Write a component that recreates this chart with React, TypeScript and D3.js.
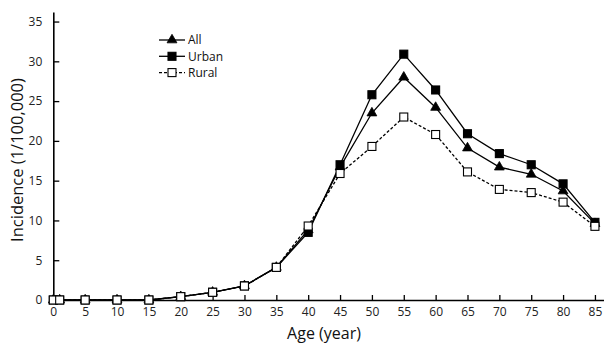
import {useEffect, useRef} from 'react';
import * as d3 from 'd3';

const ages = [0, 1, 5, 10, 15, 20, 25, 30, 35, 40, 45, 50, 55, 60, 65, 70, 75, 80, 85];
const allValues = [0, 0, 0, 0, 0, 0.42, 0.97, 1.78, 4.1, 8.8, 16.7, 23.5, 28.0, 24.2, 19.1, 16.7, 15.8, 13.7, 9.6];
const urbanValues = [0, 0, 0, 0, 0, 0.42, 0.97, 1.78, 4.1, 8.5, 17.0, 25.8, 30.9, 26.4, 20.9, 18.4, 17.0, 14.6, 9.76];
const ruralValues = [0, 0, 0, 0, 0, 0.42, 0.97, 1.76, 4.1, 9.3, 15.9, 19.3, 23.0, 20.8, 16.1, 13.9, 13.5, 12.3, 9.26];
const xTicks = [0, 5, 10, 15, 20, 25, 30, 35, 40, 45, 50, 55, 60, 65, 70, 75, 80, 85];
const yTicks = [0, 5, 10, 15, 20, 25, 30, 35];
const seriesNames = ['All', 'Urban', 'Rural'];

const W = 604;
const H = 343;
const FONT = '"Open Sans", "DejaVu Sans", sans-serif';

const App = () => {
  const svgRef = useRef<SVGSVGElement | null>(null);

  useEffect(() => {
    if (!svgRef.current) return;
    const svg = d3.select(svgRef.current);
    svg.selectAll('*').remove();

    const x = d3.scaleLinear().domain([0, 86.5]).range([53.3, 604.5]);
    const y = d3.scaleLinear().domain([0, 36.2]).range([300, 12]);

    // axes (ticks point inward)
    const xAxis = svg
      .append('g')
      .attr('transform', `translate(0,${y(0)})`)
      .call(d3.axisBottom(x).tickValues(xTicks).tickSizeInner(-5).tickSizeOuter(0).tickPadding(7));
    xAxis.select('.domain').attr('stroke', '#000').attr('stroke-width', 1.6);
    xAxis.selectAll('.tick line').attr('stroke', '#000').attr('stroke-width', 1.3);
    xAxis.selectAll('.tick text').attr('font-size', 12).attr('font-family', FONT).attr('fill', '#222');

    const yAxis = svg
      .append('g')
      .attr('transform', `translate(${x(0)},0)`)
      .call(d3.axisLeft(y).tickValues(yTicks).tickSizeInner(-6).tickSizeOuter(0).tickPadding(11));
    yAxis.select('.domain').attr('stroke', '#000').attr('stroke-width', 1.6);
    yAxis.selectAll('.tick line').attr('stroke', '#000').attr('stroke-width', 1.3);
    yAxis.selectAll('.tick text').attr('font-size', 12).attr('font-family', FONT).attr('fill', '#222');

    // axis titles
    svg
      .append('text')
      .attr('x', 324)
      .attr('y', 339)
      .attr('text-anchor', 'middle')
      .attr('font-size', 16)
      .attr('font-family', FONT)
      .attr('fill', '#111')
      .text('Age (year)');

    svg
      .append('text')
      .attr('transform', `translate(23,160) rotate(-90)`)
      .attr('text-anchor', 'middle')
      .attr('font-size', 16.5)
      .attr('font-family', FONT)
      .attr('fill', '#111')
      .text('Incidence (1/100,000)');

    const series = [
      {name: seriesNames[0], values: allValues, marker: 'triangle', dash: null, fill: '#000'},
      {name: seriesNames[1], values: urbanValues, marker: 'square', dash: null, fill: '#000'},
      {name: seriesNames[2], values: ruralValues, marker: 'square', dash: '3 2', fill: '#fff'},
    ];

    const line = d3
      .line<number>()
      .x((_, i) => x(ages[i]))
      .y((d) => y(d));

    const drawMarker = (g: any, kind: string, fill: string, cx: number, cy: number) => {
      if (kind === 'triangle') {
        g.append('path')
          .attr('d', d3.symbol(d3.symbolTriangle, 42)())
          .attr('transform', `translate(${cx},${cy})`)
          .attr('fill', fill)
          .attr('stroke', '#000')
          .attr('stroke-width', 0.8);
      } else {
        g.append('rect')
          .attr('x', cx - 4)
          .attr('y', cy - 4)
          .attr('width', 8)
          .attr('height', 8)
          .attr('fill', fill)
          .attr('stroke', '#000')
          .attr('stroke-width', 1.1);
      }
    };

    series.forEach((s) => {
      const g = svg.append('g');
      g.append('path')
        .datum(s.values)
        .attr('fill', 'none')
        .attr('stroke', '#000')
        .attr('stroke-width', 1.3)
        .attr('stroke-dasharray', s.dash)
        .attr('d', line);
      s.values.forEach((v, i) => drawMarker(g, s.marker, s.fill, x(ages[i]), y(v)));
    });

    // legend
    const legend = svg.append('g');
    series.forEach((s, i) => {
      const ly = 40 + i * 16.3;
      legend
        .append('line')
        .attr('x1', 159)
        .attr('x2', 185)
        .attr('y1', ly)
        .attr('y2', ly)
        .attr('stroke', '#000')
        .attr('stroke-width', 1.3)
        .attr('stroke-dasharray', s.dash);
      drawMarker(legend, s.marker, s.fill, 172, ly);
      legend
        .append('text')
        .attr('x', 188)
        .attr('y', ly)
        .attr('dy', '0.35em')
        .attr('font-size', 12)
        .attr('font-family', FONT)
        .attr('fill', '#111')
        .text(s.name);
    });
  }, []);

  return (
    <svg
      ref={svgRef}
      width={W}
      height={H}
      style={{position: 'absolute', left: 0, top: 0, background: '#fff'}}
    ></svg>
  );
};

export default App;
